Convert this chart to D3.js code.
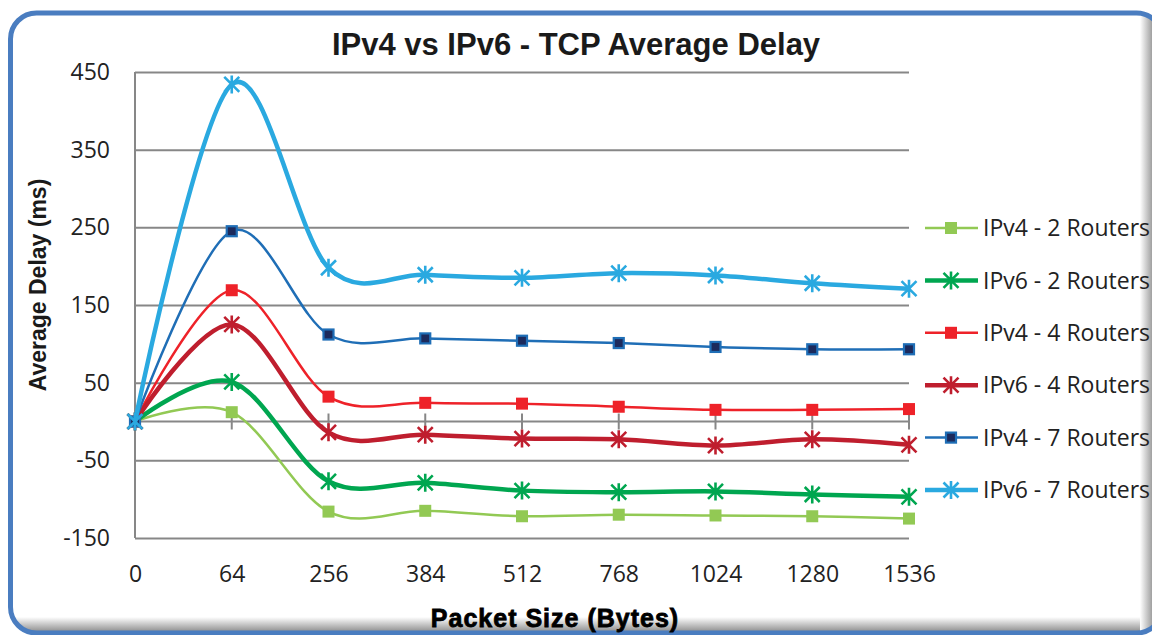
<!DOCTYPE html>
<html>
<head>
<meta charset="utf-8">
<script src="https://cdn.jsdelivr.net/npm/d3@7"></script>
<style>
  body { margin: 0; background: #fff; }
  svg { display: block; }
  .tick text { font-family: "Open Sans", sans-serif; font-size: 23px; fill: #222; }
  .legend text { font-family: "Open Sans", sans-serif; font-size: 23px; fill: #222; }
</style>
</head>
<body>
<svg width="1152" height="635"></svg>
<script>
// packet sizes on the x axis
const categories = ["0", "64", "256", "384", "512", "768", "1024", "1280", "1536"];
const yTicks = [-150, -50, 50, 150, 250, 350, 450];

// average delay in ms
const ipv4Two   = [0, 12, -116, -115, -122, -120, -121, -122, -125];
const ipv6Two   = [0, 51, -77, -79, -89, -91, -90, -94, -97];
const ipv4Four  = [0, 169, 32, 24, 23, 19, 15, 15, 16];
const ipv6Four  = [0, 125, -14, -17, -22, -23, -31, -23, -30];
const ipv4Seven = [0, 245, 112, 107, 104, 101, 96, 93, 93];
const ipv6Seven = [0, 434, 198, 189, 185, 191, 188, 178, 171];

const seriesNames = ["IPv4 - 2 Routers", "IPv6 - 2 Routers", "IPv4 - 4 Routers",
                     "IPv6 - 4 Routers", "IPv4 - 7 Routers", "IPv6 - 7 Routers"];

const series = [
  { name: seriesNames[0], values: ipv4Two,   color: "#92c954", width: 2.5, marker: "square" },
  { name: seriesNames[1], values: ipv6Two,   color: "#00a650", width: 4.5, marker: "star" },
  { name: seriesNames[2], values: ipv4Four,  color: "#ee2229", width: 2.5, marker: "square" },
  { name: seriesNames[3], values: ipv6Four,  color: "#bf1e2e", width: 4.5, marker: "star" },
  { name: seriesNames[4], values: ipv4Seven, color: "#1f6eb6", width: 2.5, marker: "navy" },
  { name: seriesNames[5], values: ipv6Seven, color: "#2aa9e0", width: 4.5, marker: "star" }
];

const svg = d3.select("svg");
const plotLeft = 135, plotRight = 909, plotTop = 72, plotBottom = 538;
const gridColor = "#878787";

const x = d3.scalePoint().domain(categories).range([plotLeft, plotRight]).padding(0);
const y = d3.scaleLinear().domain([-150, 450]).range([plotBottom, plotTop]);

/* FRAME */
const defs = svg.append("defs");
const fx = 10.5, fy = 13, fw = 1152, fh = 620, fr = 26;
defs.append("clipPath").attr("id", "frameClip")
  .append("rect").attr("x", fx).attr("y", fy).attr("width", fw).attr("height", fh).attr("rx", fr);
const gBottom = defs.append("linearGradient").attr("id", "shadeB").attr("x1", 0).attr("y1", 0).attr("x2", 0).attr("y2", 1);
gBottom.append("stop").attr("offset", 0).attr("stop-color", "#fff");
gBottom.append("stop").attr("offset", 1).attr("stop-color", "#858585");
const gRight = defs.append("linearGradient").attr("id", "shadeR").attr("x1", 0).attr("y1", 0).attr("x2", 1).attr("y2", 0);
gRight.append("stop").attr("offset", 0).attr("stop-color", "#fff");
gRight.append("stop").attr("offset", 1).attr("stop-color", "#a0a0a0");

const frame = svg.append("g").attr("clip-path", "url(#frameClip)");
frame.append("rect").attr("x", fx).attr("y", fy).attr("width", fw).attr("height", fh).attr("fill", "#fff");
frame.append("rect").attr("x", fx).attr("y", 617).attr("width", fw).attr("height", 16).attr("fill", "url(#shadeB)");
frame.append("rect").attr("x", 1140).attr("y", fy).attr("width", 12).attr("height", fh).attr("fill", "url(#shadeR)");
svg.append("rect").attr("x", fx).attr("y", fy).attr("width", fw).attr("height", fh).attr("rx", fr)
  .attr("fill", "none").attr("stroke", "#4a7dc0").attr("stroke-width", 5);

/* GRID */
svg.append("g")
  .attr("transform", `translate(${plotLeft},0)`)
  .call(d3.axisLeft(y).tickValues(yTicks).tickSize(-(plotRight - plotLeft)).tickFormat(""))
  .call(g => g.select(".domain").remove())
  .call(g => g.selectAll(".tick line").attr("stroke", gridColor).attr("stroke-width", 2));

// y axis line
svg.append("line")
  .attr("x1", plotLeft).attr("x2", plotLeft).attr("y1", plotTop).attr("y2", plotBottom)
  .attr("stroke", gridColor).attr("stroke-width", 2);

// zero line with ticks
svg.append("line")
  .attr("x1", plotLeft).attr("x2", plotRight).attr("y1", y(0)).attr("y2", y(0))
  .attr("stroke", gridColor).attr("stroke-width", 2);
svg.append("g").selectAll("line")
  .data(categories)
  .join("line")
  .attr("x1", d => x(d)).attr("x2", d => x(d))
  .attr("y1", y(0) - 8).attr("y2", y(0) + 8)
  .attr("stroke", gridColor).attr("stroke-width", 2);

/* AXIS LABELS */
svg.append("g")
  .attr("transform", `translate(${plotLeft - 25},0)`)
  .call(d3.axisLeft(y).tickValues(yTicks).tickSize(0).tickPadding(0).tickFormat(d => String(d)))
  .call(g => g.select(".domain").remove());

svg.append("g")
  .attr("transform", `translate(0,${plotBottom})`)
  .call(d3.axisBottom(x).tickSize(0).tickPadding(28))
  .call(g => g.select(".domain").remove());

/* TITLES */
svg.append("text")
  .attr("x", 576).attr("y", 55)
  .attr("text-anchor", "middle")
  .style("font-family", "'Liberation Sans', Arial, sans-serif")
  .style("font-weight", "bold").style("font-size", "31px").attr("fill", "#1a1a1a")
  .text("IPv4 vs IPv6 - TCP Average Delay");

svg.append("text")
  .attr("transform", "translate(46,285) rotate(-90)")
  .attr("text-anchor", "middle")
  .style("font-family", "'Liberation Sans', Arial, sans-serif")
  .style("font-weight", "bold").style("font-size", "23px").attr("fill", "#1a1a1a")
  .text("Average Delay (ms)");

svg.append("text")
  .attr("x", 555).attr("y", 627)
  .attr("text-anchor", "middle")
  .style("font-family", "'Liberation Sans', Arial, sans-serif")
  .style("font-weight", "bold").style("font-size", "25px")
  .style("letter-spacing", "1px")
  .attr("fill", "#000").attr("stroke", "#000").attr("stroke-width", 0.8)
  .text("Packet Size (Bytes)");

/* MARKERS */
function drawMarker(g, type, color) {
  if (type === "square") {
    g.append("rect").attr("x", -6).attr("y", -6).attr("width", 12).attr("height", 12)
      .attr("fill", color);
  } else if (type === "navy") {
    g.append("rect").attr("x", -5).attr("y", -5).attr("width", 10).attr("height", 10)
      .attr("fill", "#1c2a5c").attr("stroke", color).attr("stroke-width", 2.2);
  } else {
    const r = 9, dx = 7.5, dy = 7.5;
    g.append("path")
      .attr("d", `M0,${-r}V${r}M${-dx},${-dy}L${dx},${dy}M${-dx},${dy}L${dx},${-dy}`)
      .attr("stroke", color).attr("stroke-width", 2.6).attr("fill", "none");
  }
}

/* LINES */
const line = d3.line()
  .x((d, i) => x(categories[i]))
  .y(d => y(d))
  .curve(d3.curveCardinal.tension(0));

series.forEach(s => {
  svg.append("path")
    .datum(s.values)
    .attr("d", line)
    .attr("fill", "none")
    .attr("stroke", s.color)
    .attr("stroke-width", s.width);

  s.values.forEach((v, i) => {
    const m = svg.append("g").attr("transform", `translate(${x(categories[i])},${y(v)})`);
    drawMarker(m, s.marker, s.color);
  });
});

/* LEGEND */
const legend = svg.append("g").attr("class", "legend");
series.forEach((s, i) => {
  const ly = 228 + i * 52.4;
  const item = legend.append("g").attr("transform", `translate(0,${ly})`);
  item.append("line").attr("x1", 925).attr("x2", 978).attr("y1", 0).attr("y2", 0)
    .attr("stroke", s.color).attr("stroke-width", s.width);
  drawMarker(item.append("g").attr("transform", "translate(951,0)"), s.marker, s.color);
  item.append("text").attr("x", 983).attr("y", 0).attr("dy", "0.36em").text(s.name);
});
</script>
</body>
</html>
